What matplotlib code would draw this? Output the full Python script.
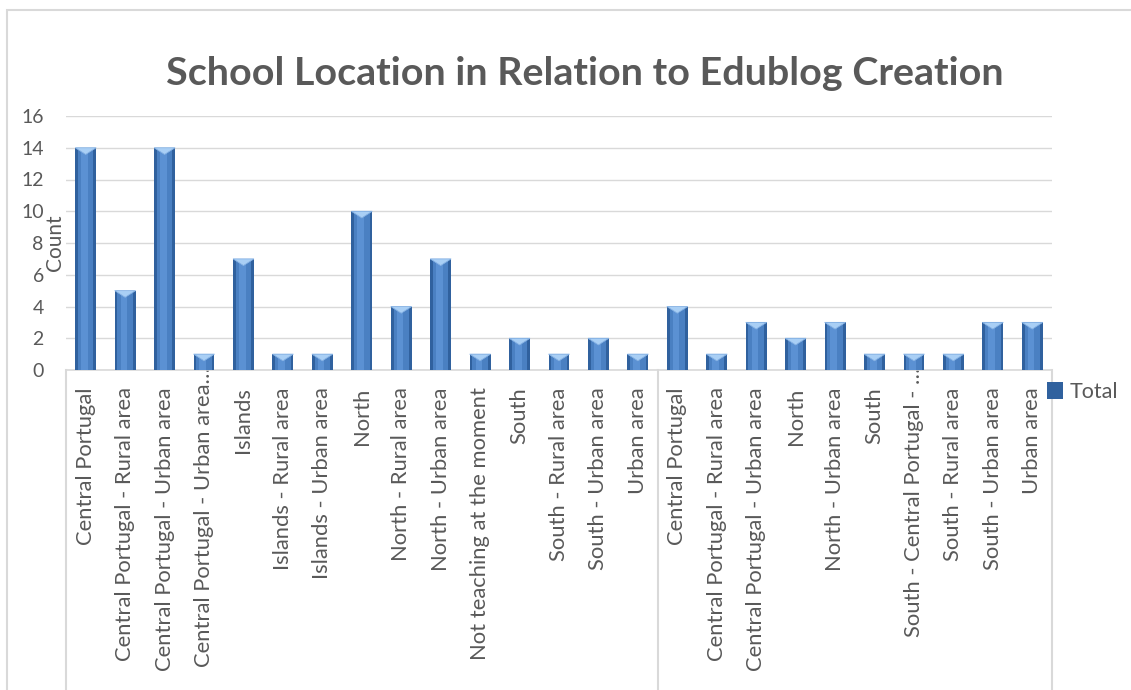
import matplotlib
matplotlib.use("Agg")
import matplotlib.pyplot as plt
import matplotlib.transforms as mtransforms
from matplotlib.patches import Polygon, Rectangle
import numpy as np

# counts per school location, split in two blocks on the category axis
group1_labels = ["Central Portugal", "Central Portugal - Rural area", "Central Portugal - Urban area",
                 "Central Portugal - Urban area\u2026", "Islands", "Islands - Rural area",
                 "Islands - Urban area", "North", "North - Rural area", "North - Urban area",
                 "Not teaching at the moment", "South", "South - Rural area", "South - Urban area",
                 "Urban area"]
group1_counts = [14, 5, 14, 1, 7, 1, 1, 10, 4, 7, 1, 2, 1, 2, 1]

group2_labels = ["Central Portugal", "Central Portugal - Rural area", "Central Portugal - Urban area",
                 "North", "North - Urban area", "South", "South - Central Portugal - \u2026",
                 "South - Rural area", "South - Urban area", "Urban area"]
group2_counts = [4, 1, 3, 2, 3, 1, 1, 1, 3, 3]

labels = group1_labels + group2_labels
counts = np.array(group1_counts + group2_counts)
x = np.arange(len(labels))

plt.rcParams['font.family'] = ['Lato', 'DejaVu Sans']
txt = '#595959'
grid = '#d9d9d9'

fig = plt.figure(figsize=(11.31, 6.9), dpi=100)
ax = fig.add_axes([66 / 1131, 1 - 370 / 690, 986 / 1131, 254 / 690])

# chart border
fig.patches.append(Rectangle((7 / 1131, -0.05), 1.2, 1 - 10 / 690 + 0.05, transform=fig.transFigure,
                             fill=False, edgecolor=grid, linewidth=1.5, zorder=0))

w = 0.53
# layered bars to fake the bevelled look
bars = ax.bar(x, counts, width=w, color='#30619e', zorder=3, label='Total')
ax.bar(x, counts, width=w * 0.74, color='#4a80c2', zorder=4)
ax.bar(x - w * 0.06, counts, width=w * 0.32, color='#5b91d3', zorder=5)
d = 0.42
for xi, v in zip(x, counts):
    ax.add_patch(Polygon([(xi - w / 2, v), (xi + w / 2, v), (xi, v - d)], closed=True,
                         facecolor='#a9cff5', edgecolor='#86b2e4', linewidth=0.6, zorder=6))

ax.set_xlim(-0.5, len(labels) - 0.5)
ax.set_ylim(0, 16)
ax.set_yticks(range(0, 17, 2))
ax.yaxis.grid(True, color=grid, linewidth=1.0, zorder=0)
ax.set_axisbelow(True)
for s in ['top', 'right', 'left']:
    ax.spines[s].set_visible(False)
ax.spines['bottom'].set_color(grid)
ax.spines['bottom'].set_linewidth(1.2)

ax.set_xticks(x)
ax.set_xticklabels(labels, rotation=90, fontsize=15.8, color=txt)
ax.tick_params(axis='x', length=0, pad=12.5)
ax.tick_params(axis='y', length=0, pad=16, labelsize=14, labelcolor=txt)

# truncated labels sit a little higher
for lab in ax.get_xticklabels():
    if lab.get_text().endswith('\u2026'):
        lab.set_transform(lab.get_transform() + mtransforms.ScaledTranslation(0, 0.2, fig.dpi_scale_trans))

# category box lines under the axis
trans = mtransforms.blended_transform_factory(ax.transData, ax.transAxes)
for xv in [-0.5, len(group1_labels) - 0.5, len(labels) - 0.5]:
    ax.plot([xv, xv], [0, -1.3], transform=trans, clip_on=False, color=grid, linewidth=1.5)

ax.set_ylabel('Count', fontsize=15, color=txt)
ax.yaxis.set_label_coords(-0.001, 0.5)

fig.text(585 / 1131, 1 - 85 / 690, 'School Location in Relation to Edublog Creation',
         ha='center', va='baseline', fontsize=28.4, fontweight='bold', color=txt)

ax.legend(handles=[bars], loc='center left', bbox_to_anchor=(1047 / 1131, 1 - 392 / 690),
          bbox_transform=fig.transFigure, frameon=False, fontsize=15.5, labelcolor=txt,
          handlelength=0.75, handleheight=0.85, handletextpad=0.3, borderpad=0, borderaxespad=0)

fig.savefig('out.png', dpi=100)
